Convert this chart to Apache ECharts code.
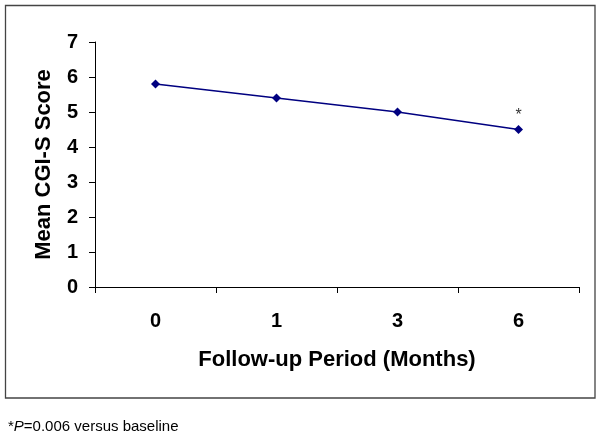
<!DOCTYPE html>
<html><head><meta charset="utf-8">
<script src="https://cdn.jsdelivr.net/npm/echarts@6/dist/echarts.min.js"></script>
<style>html,body{margin:0;padding:0;background:#fff}#c{width:600px;height:439px}</style>
</head><body><div id="c"></div>
<script>
const categories = ['0', '1', '3', '6'];
const meanScores = [5.8, 5.4, 5.0, 4.5];
const markers = ['', '', '', '*'];
const yTicks = {min: 0, max: 7, interval: 1};
const xName = 'Follow-up Period (Months)';
const yName = 'Mean CGI-S Score';

const FONT = 'Arial, "Liberation Sans", sans-serif';
const chart = echarts.init(document.getElementById('c'), null, {renderer: 'canvas'});
chart.setOption({
  animation: false,
  backgroundColor: '#fff',
  grid: {left: 95, right: 21, top: 42, bottom: 152, containLabel: false},
  graphic: [
    {type: 'rect', shape: {x: 5.5, y: 5.5, width: 589.5, height: 392.5}, style: {fill: 'none', stroke: '#444', lineWidth: 1.3}, silent: true},
    {type: 'text', left: 8, top: 419, style: {
      text: '{n|*}{i|P}{n|=0.006 versus baseline}',
      rich: {n: {fontFamily: FONT, fontSize: 15, fill: '#000'}, i: {fontFamily: FONT, fontSize: 15, fontStyle: 'italic', fill: '#000'}}
    }}
  ],
  xAxis: {
    type: 'category', data: categories, boundaryGap: true,
    name: xName, nameLocation: 'middle', nameGap: 62,
    nameTextStyle: {fontFamily: FONT, fontSize: 22, fontWeight: 'bold', color: '#000'},
    axisLine: {lineStyle: {color: '#000', width: 1}},
    axisTick: {show: true, length: 6, inside: false, lineStyle: {color: '#000'}},
    axisLabel: {fontFamily: FONT, fontSize: 20, fontWeight: 'bold', color: '#000', margin: 24},
    splitLine: {show: false}
  },
  yAxis: {
    type: 'value', min: yTicks.min, max: yTicks.max, interval: yTicks.interval,
    name: yName, nameLocation: 'middle', nameGap: 40, nameRotate: 90,
    nameTextStyle: {fontFamily: FONT, fontSize: 22, fontWeight: 'bold', color: '#000'},
    axisLine: {show: true, lineStyle: {color: '#000', width: 1}},
    axisTick: {show: true, length: 6, lineStyle: {color: '#000'}},
    axisLabel: {fontFamily: FONT, fontSize: 20, fontWeight: 'bold', color: '#000', margin: 17},
    splitLine: {show: false}
  },
  series: [{
    type: 'line',
    data: meanScores.map((v, i) => ({
      value: v,
      label: {show: markers[i] !== '', position: 'top', formatter: markers[i], distance: 1,
        fontFamily: FONT, fontSize: 16, color: '#333'}
    })),
    symbol: 'diamond', symbolSize: 9,
    itemStyle: {color: '#000080'},
    lineStyle: {color: '#000080', width: 1.5}
  }]
});
</script></body></html>
